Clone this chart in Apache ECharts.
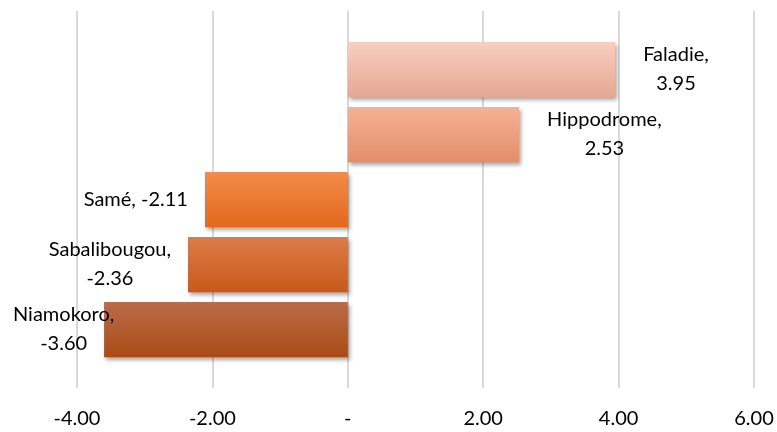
<!DOCTYPE html>
<html>
<head>
<meta charset="utf-8">
<script src="https://cdn.jsdelivr.net/npm/echarts@6/dist/echarts.min.js"></script>
<style>
html, body { margin: 0; padding: 0; background: #fff; }
#main { width: 777px; height: 432px; }
</style>
</head>
<body>
<div id="main"></div>
<script>
// data
var categories = ['Faladie', 'Hippodrome', 'Samé', 'Sabalibougou', 'Niamokoro'];
var values = [3.95, 2.53, -2.11, -2.36, -3.60];
var axisMin = -4, axisMax = 6, axisStep = 2;

// top / bottom colours of each bar gradient
var barTop = ['#f8cfbf', '#f5b294', '#f48c4a', '#dc7c48', '#bb6c4a'];
var barBottom = ['#e5a892', '#e48d6b', '#e2681c', '#c85a1b', '#a84c15'];

var FONT = 'Lato, "Open Sans", sans-serif';
var FONT_SIZE = 20;

var chart = echarts.init(document.getElementById('main'));

var labelText = function(i) {
    var n = categories[i], v = values[i].toFixed(2);
    // short names stay on one line, like excel does
    return n.length > 6 ? n + ',\n' + v : n + ', ' + v;
};

var measure = function(txt) {
    var ctx = document.createElement('canvas').getContext('2d');
    ctx.font = FONT_SIZE + 'px ' + FONT;
    var w = 0;
    txt.split('\n').forEach(function(l) { w = Math.max(w, ctx.measureText(l).width); });
    return w;
};

var buildData = function(ends) {
    return values.map(function(v, i) {
        var txt = labelText(i);
        var w = measure(txt);
        var lbl;
        if (v >= 0) {
            lbl = { position: 'right', distance: 28 + w / 2 };
        } else {
            var d = 17 + w / 2;
            if (ends) d = Math.min(d, ends[i] - 13 - w / 2);
            lbl = { position: 'left', distance: d };
        }
        return {
            value: v,
            label: lbl,
            itemStyle: {
                color: new echarts.graphic.LinearGradient(0, 0, 0, 1, [
                    { offset: 0, color: barTop[i] },
                    { offset: 1, color: barBottom[i] }
                ])
            }
        };
    });
};

var option = {
    animation: false,
    grid: [
        { left: 77, right: 23, top: 37, bottom: 70 },
        { left: 77, right: 23, top: 11, bottom: 44 }
    ],
    xAxis: [
        { gridIndex: 0, type: 'value', min: axisMin, max: axisMax, interval: axisStep, show: false },
        {
            gridIndex: 1, type: 'value', min: axisMin, max: axisMax, interval: axisStep,
            axisLine: { show: false },
            axisTick: { show: false },
            splitLine: { show: true, lineStyle: { color: '#d9d9d9', width: 2 } },
            axisLabel: {
                margin: 21,
                color: '#000',
                fontFamily: FONT,
                fontSize: FONT_SIZE,
                formatter: function(v) { return v === 0 ? '-' : v.toFixed(2); }
            }
        }
    ],
    yAxis: [
        { gridIndex: 0, type: 'category', data: categories, inverse: true, show: false },
        { gridIndex: 1, type: 'value', show: false, min: 0, max: 1 }
    ],
    series: [{
        type: 'bar',
        xAxisIndex: 0,
        yAxisIndex: 0,
        barCategoryGap: '15%',
        z: 3,
        data: buildData(null),
        itemStyle: {
            shadowColor: 'rgba(0,0,0,0.35)',
            shadowBlur: 4,
            shadowOffsetX: 2,
            shadowOffsetY: 3
        },
        label: {
            show: true,
            align: 'center',
            verticalAlign: 'middle',
            color: '#000',
            fontFamily: FONT,
            fontSize: FONT_SIZE,
            lineHeight: 29,
            formatter: function(p) { return labelText(p.dataIndex); }
        }
    }]
};

chart.setOption(option);

// second pass: keep labels inside the chart on the left side
var ends = values.map(function(v) { return chart.convertToPixel({ xAxisIndex: 0 }, v); });
chart.setOption({ series: [{ data: buildData(ends) }] });
</script>
</body>
</html>
